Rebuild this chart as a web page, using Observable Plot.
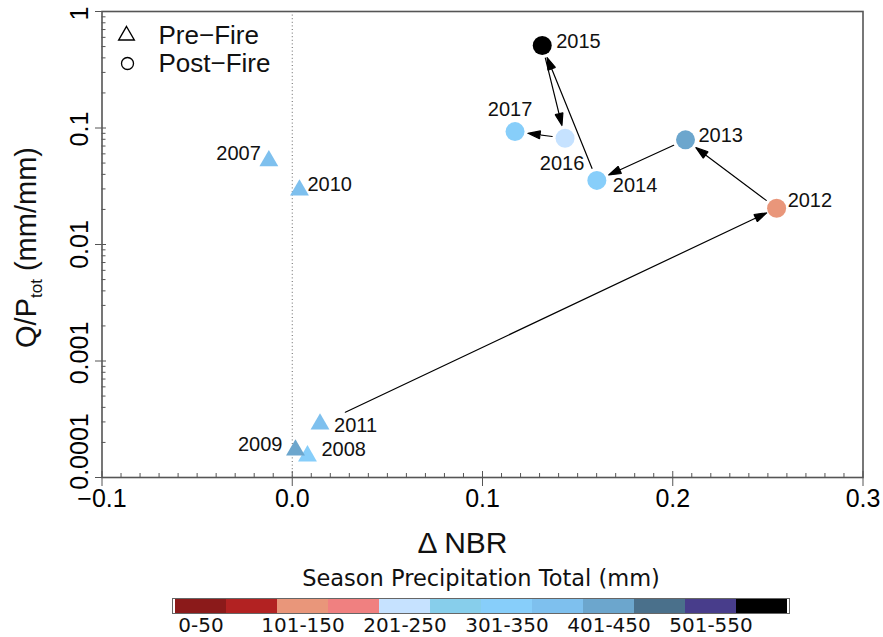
<!DOCTYPE html>
<html><head><meta charset="utf-8">
<script src="https://cdn.jsdelivr.net/npm/d3@7"></script>
<script src="https://cdn.jsdelivr.net/npm/@observablehq/plot@0.6"></script>
<style>
body{margin:0;background:#fff}
#chart svg{display:block}
</style>
</head><body><div id="chart"></div>
<script>
// ---- data ----
const years = [2007, 2008, 2009, 2010, 2011, 2012, 2013, 2014, 2015, 2016, 2017];
const dnbr = [-0.0123, 0.0080, 0.0017, 0.0038, 0.0146, 0.2546, 0.2067, 0.1601, 0.1314, 0.1434, 0.1171];
const qp = [0.0522, 0.000153, 0.000172, 0.0293, 0.000287, 0.0205, 0.0791, 0.0355, 0.511, 0.0818, 0.0931];
const phase = ["Pre-Fire", "Pre-Fire", "Pre-Fire", "Pre-Fire", "Pre-Fire",
  "Post-Fire", "Post-Fire", "Post-Fire", "Post-Fire", "Post-Fire", "Post-Fire"];
const precipBin = ["351-400", "301-350", "401-450", "351-400", "351-400",
  "101-150", "401-450", "301-350", "551-600", "201-250", "301-350"];
const binLabels = ["0-50", "51-100", "101-150", "151-200", "201-250", "251-300",
  "301-350", "351-400", "401-450", "451-500", "501-550", "551-600"];
const binColors = ["#8B1A1A", "#B22222", "#E9967A", "#F08080", "#C6E2FF", "#87CEEB",
  "#87CEFA", "#7EC0EE", "#6CA6CD", "#4A708B", "#483D8B", "#000000"];
const arrowFrom = [2011, 2012, 2013, 2014, 2015, 2016];
const arrowTo = [2012, 2013, 2014, 2015, 2016, 2017];
const xTicks = [-0.1, 0.0, 0.1, 0.2, 0.3];
const yTicks = [0.0001, 0.001, 0.01, 0.1, 1];
const yTickLabels = ["0.0001", "0.001", "0.01", "0.1", "1"];
const legendItems = ["Pre\u2212Fire", "Post\u2212Fire"];

// ---- derived tables ----
const rows = years.map((year, i) => ({year, x: dnbr[i], y: qp[i], phase: phase[i], bin: precipBin[i]}));
const byYear = new Map(rows.map(r => [r.year, r]));
const arrows = arrowFrom.map((f, i) => ({x1: byYear.get(f).x, y1: byYear.get(f).y, x2: byYear.get(arrowTo[i]).x, y2: byYear.get(arrowTo[i]).y}));
const xMinor = d3.range(-10, 31).filter(k => k % 10 !== 0).map(k => k / 100);
const yMinor = [1e-4, 1e-3, 1e-2, 1e-1].flatMap(d => d3.range(2, 10).map(m => m * d));

// label placement (layout, not data)
const labelPlace = {
  2007: {dx: -8, dy: -7, a: "end"},
  2008: {dx: 14, dy: -6, a: "start"},
  2009: {dx: -13, dy: -5, a: "end"},
  2010: {dx: 8, dy: -6, a: "start"},
  2011: {dx: 14, dy: 1, a: "start"},
  2012: {dx: 11, dy: -8, a: "start"},
  2013: {dx: 13, dy: -4, a: "start"},
  2014: {dx: 16, dy: 5, a: "start"},
  2015: {dx: 14, dy: -4, a: "start"},
  2016: {dx: -3, dy: 25, a: "middle"},
  2017: {dx: -5, dy: -22, a: "middle"}
};
// vertical nudge of the rotated y tick labels, as in the original figure
const yLabelNudge = [-26, -8, 0, 1, 2];

const axisGray = "#555";

const main = Plot.plot({
  width: 883, height: 560,
  marginTop: 11, marginBottom: 83, marginLeft: 101.5, marginRight: 20.5,
  style: {fontFamily: "'Liberation Sans', Arial, Helvetica, sans-serif", color: "#000", background: "#fff", overflow: "visible"},
  x: {domain: [-0.1, 0.3]},
  y: {type: "log", domain: [1e-4, 1]},
  color: {type: "ordinal", domain: binLabels, range: binColors},
  marks: [
    Plot.ruleX([0], {stroke: "#666", strokeWidth: 1, strokeDasharray: "1,2.6"}),
    // minor ticks (inward)
    Plot.axisX({ticks: xMinor, tickSize: -4, tickFormat: () => "", stroke: axisGray, label: null}),
    Plot.axisY({ticks: yMinor, tickSize: -4, tickFormat: () => "", stroke: axisGray, label: null}),
    // major ticks inward part
    Plot.axisX({ticks: xTicks, tickSize: -6, tickFormat: () => "", stroke: axisGray, label: null}),
    Plot.axisY({ticks: yTicks, tickSize: -4.5, tickFormat: () => "", stroke: axisGray, label: null}),
    // major ticks
    Plot.axisX({ticks: xTicks, tickSize: 9, tickPadding: 3, tickFormat: d3.format(".1f"), fontSize: 25, stroke: axisGray, fill: "#000", label: null}),
    Plot.axisY({ticks: yTicks, tickSize: 6.5, tickFormat: () => "", stroke: axisGray, label: null}),
    // rotated y tick labels
    ...yTicks.map((t, i) => Plot.text([t], {frameAnchor: "left", y: d => d, text: () => yTickLabels[i], rotate: -90, textAnchor: "middle", lineAnchor: "middle", dx: -22.5, dy: yLabelNudge[i], fontSize: 25, fill: "#000"})),
    Plot.frame({stroke: axisGray, strokeWidth: 1.6}),
    // arrows
    Plot.arrow(arrows.slice(0, 1), {x1: "x1", y1: "y1", x2: "x2", y2: "y2", insetStart: 28, insetEnd: 11, headAngle: 36, headLength: 16, stroke: "#000", strokeWidth: 1.2}),
    Plot.arrow(arrows.slice(1), {x1: "x1", y1: "y1", x2: "x2", y2: "y2", insetStart: 13, insetEnd: 13, headAngle: 36, headLength: 16, stroke: "#000", strokeWidth: 1.2}),
    // points
    Plot.dot(rows.filter(r => r.phase === "Pre-Fire"), {x: "x", y: "y", fill: "bin", symbol: "triangle", r: 7}),
    Plot.dot(rows.filter(r => r.phase === "Post-Fire"), {x: "x", y: "y", fill: "bin", symbol: "circle", r: 9.5}),
    // year labels
    ...years.map(yr => Plot.text([byYear.get(yr)], {x: "x", y: "y", text: d => String(d.year), dx: labelPlace[yr].dx, dy: labelPlace[yr].dy, textAnchor: labelPlace[yr].a, lineAnchor: "middle", fontSize: 20, fill: "#111"})),
    // legend
    Plot.dot([legendItems[0]], {frameAnchor: "top-left", dx: 24.5, dy: 24, symbol: "triangle", r: 5.8, stroke: "#000", strokeWidth: 1.4, fill: "none"}),
    Plot.dot([legendItems[1]], {frameAnchor: "top-left", dx: 25.5, dy: 52, symbol: "circle", r: 6, stroke: "#000", strokeWidth: 1.3, fill: "none"}),
    Plot.text([legendItems[0]], {frameAnchor: "top-left", dx: 56.5, dy: 24.5, text: d => d, textAnchor: "start", lineAnchor: "middle", fontSize: 26, fill: "#111"}),
    Plot.text([legendItems[1]], {frameAnchor: "top-left", dx: 56.5, dy: 52.5, text: d => d, textAnchor: "start", lineAnchor: "middle", fontSize: 26, fill: "#111"}),
    // axis titles
    Plot.text(["\u0394 NBR"], {frameAnchor: "bottom", dx: -20, dy: 66, text: d => d, textAnchor: "middle", lineAnchor: "middle", fontSize: 30, fill: "#111"}),
    Plot.text(["Q/Ptot (mm/mm)"], {frameAnchor: "left", dx: -75, dy: 3, rotate: -90, text: d => d, textAnchor: "middle", lineAnchor: "middle", fontSize: 29, fill: "#111"})
  ]
});

// filled arrow heads
d3.select(main).selectAll('g[aria-label="arrow"] path').each(function() {
  const p = d3.select(this);
  p.attr("d", p.attr("d") + "Z").attr("fill", "#000");
});
// subscript in y label
d3.select(main).selectAll("text").filter(function() { return this.textContent === "Q/Ptot (mm/mm)"; }).each(function() {
  const t = d3.select(this);
  t.text(null);
  t.append("tspan").text("Q/P");
  t.append("tspan").attr("font-size", 17).attr("dy", 6).text("tot");
  t.append("tspan").attr("dy", -6).text(" (mm/mm)");
});

const bar = Plot.plot({
  width: 883, height: 77,
  marginTop: 38, marginBottom: 24, marginLeft: 172, marginRight: 94,
  style: {fontFamily: "'DejaVu Sans', sans-serif", color: "#000", background: "#fff", overflow: "visible"},
  x: {type: "band", domain: binLabels, padding: 0},
  color: {type: "ordinal", domain: binLabels, range: binColors},
  marks: [
    Plot.cell(binLabels, {x: d => d, fill: d => d}),
    Plot.frame({stroke: "#666", strokeWidth: 1}),
    Plot.axisX({ticks: binLabels.filter((_, i) => i % 2 === 0), tickSize: 0, tickPadding: 4, fontSize: 20, fill: "#111", label: null}),
    Plot.text(["Season Precipitation Total (mm)"], {frameAnchor: "top", dy: -20, text: d => d, lineAnchor: "middle", fontSize: 22.5, fill: "#111"})
  ]
});

const chart = document.getElementById("chart");
chart.appendChild(main);
chart.appendChild(bar);
</script>
</body></html>
